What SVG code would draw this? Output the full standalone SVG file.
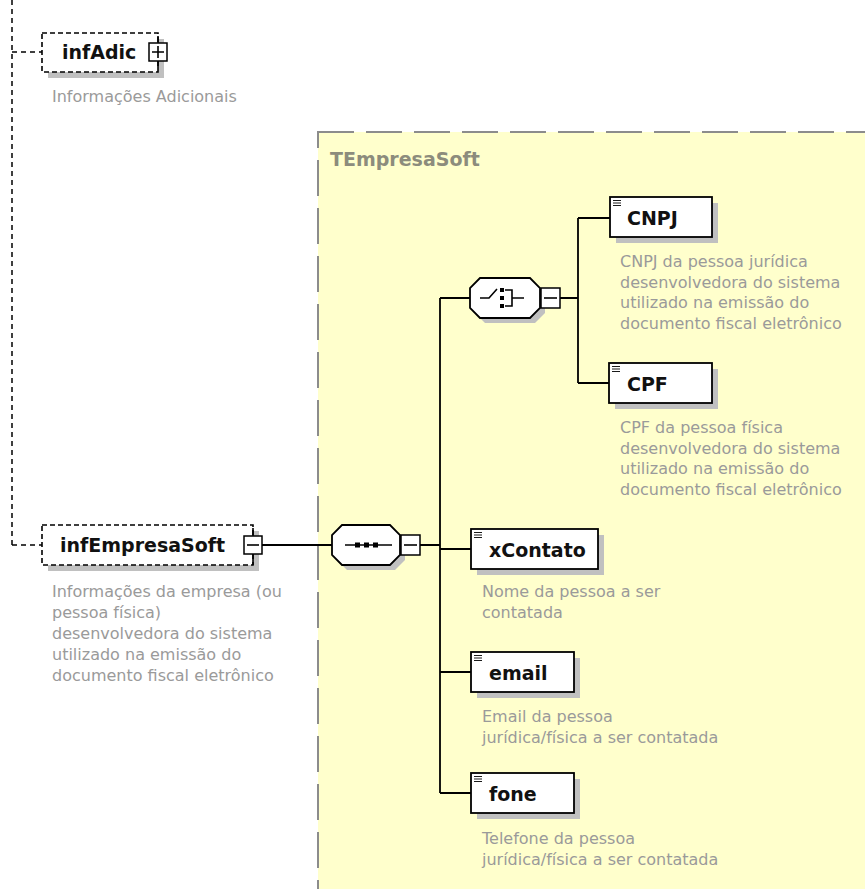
<svg xmlns="http://www.w3.org/2000/svg" width="865" height="889" viewBox="0 0 865 889">
<style>
.lbl{font-family:"DejaVu Sans",Verdana,sans-serif;font-weight:bold;font-size:19px;fill:#111}
.desc{font-family:"DejaVu Sans",Verdana,sans-serif;font-size:16px;fill:#9a9a9a}
.type{font-family:"DejaVu Sans",Verdana,sans-serif;font-weight:bold;font-size:19px;fill:#8c8c7c}
.box{fill:#fff;stroke:#000;stroke-width:1.8}
.opt{fill:#fff;stroke:#000;stroke-width:1.6;stroke-dasharray:5 3}
.shadow{fill:#c0c0c0}
.conn{stroke:#000;stroke-width:1.8;fill:none}
.dconn{stroke:#000;stroke-width:1.5;fill:none;stroke-dasharray:5 4}
.pm{fill:#fff;stroke:#000;stroke-width:1.5}
.sym{stroke:#000;stroke-width:1.6;fill:none}
.ico{stroke:#000;stroke-width:0.9;fill:none}
.dot{fill:#000}
</style>
<rect width="865" height="889" fill="#fff"/>
<g id="TEmpresaSoft">
<rect x="318" y="132" width="600" height="800" fill="#ffffcc" stroke="#8c8c8c" stroke-width="2" stroke-dasharray="36 12"/>
<text class="type" x="330" y="166">TEmpresaSoft</text>
</g>
<g id="connectors">
<path class="dconn" d="M12,0 V545 M12,52 H42 M12,545 H42"/>
<path class="conn" d="M262,545 H332 M420,545 H440 M440,298 V793 M440,298 H470 M440,549 H471 M440,672 H471 M440,793 H471 M560,298 H578 M578,218 V383 M578,218 H610 M578,383 H609"/>
</g>
<g id="infAdic">
<rect class="shadow" x="48" y="39" width="116" height="39"/>
<rect class="opt" x="42" y="33" width="116" height="39"/>
<text class="lbl" x="62" y="59">infAdic</text>
<path class="sym" d="M158,36 V69"/>
<rect class="pm" x="149" y="43" width="18" height="18"/>
<path class="sym" d="M152,52 H164 M158,46 V58"/>
<text class="desc" x="52" y="102">Informações Adicionais</text>
</g>
<g id="infEmpresaSoft">
<rect class="shadow" x="48" y="531" width="211" height="40"/>
<rect class="opt" x="42" y="525" width="211" height="40"/>
<text class="lbl" x="60" y="552">infEmpresaSoft</text>
<path class="sym" d="M253,528 V565"/>
<rect class="pm" x="244" y="536" width="18" height="18"/>
<path class="sym" d="M247,545 H259"/>
<text class="desc" x="52" y="597">Informações da empresa (ou</text>
<text class="desc" x="52" y="618">pessoa física)</text>
<text class="desc" x="52" y="639">desenvolvedora do sistema</text>
<text class="desc" x="52" y="660">utilizado na emissão do</text>
<text class="desc" x="52" y="681">documento fiscal eletrônico</text>
</g>
<g id="sequence">
<path class="shadow" d="M347,530 L395,530 L405,540 L405,560 L395,570 L347,570 L337,560 L337,540 Z"/>
<path class="box" d="M342,525 L390,525 L400,535 L400,555 L390,565 L342,565 L332,555 L332,535 Z"/>
<path class="sym" d="M345,545 H392"/>
<rect class="dot" x="355" y="542.5" width="5" height="5"/>
<rect class="dot" x="364" y="542.5" width="5" height="5"/>
<rect class="dot" x="373" y="542.5" width="5" height="5"/>
<rect class="pm" x="401" y="535" width="19" height="20"/>
<path class="sym" d="M404,545 H417"/>
</g>
<g id="choice">
<path class="shadow" d="M485,283 L535,283 L545,293 L545,313 L535,323 L485,323 L475,313 L475,293 Z"/>
<path class="box" d="M480,278 L530,278 L540,288 L540,308 L530,318 L480,318 L470,308 L470,288 Z"/>
<path class="sym" d="M480,298 H489 L497,289"/>
<rect class="dot" x="500" y="288" width="4" height="4"/>
<rect class="dot" x="500" y="296" width="4" height="4"/>
<rect class="dot" x="500" y="304" width="4" height="4"/>
<path class="sym" d="M505,290 H512 V306 H505 M512,298 H524"/>
<rect class="pm" x="541" y="288" width="19" height="20"/>
<path class="sym" d="M544,298 H557"/>
</g>
<g id="CNPJ">
<rect class="shadow" x="616" y="203" width="102" height="40"/>
<rect class="box" x="610" y="197" width="102" height="40"/>
<path class="ico" d="M613,200.5 H621 M613,203 H621 M613,205.5 H621"/>
<text class="lbl" x="627" y="225">CNPJ</text>
<text class="desc" x="620" y="267">CNPJ da pessoa jurídica</text>
<text class="desc" x="620" y="288">desenvolvedora do sistema</text>
<text class="desc" x="620" y="308">utilizado na emissão do</text>
<text class="desc" x="620" y="329">documento fiscal eletrônico</text>
</g>
<g id="CPF">
<rect class="shadow" x="615" y="369" width="103" height="40"/>
<rect class="box" x="609" y="363" width="103" height="40"/>
<path class="ico" d="M612,366.5 H620 M612,369 H620 M612,371.5 H620"/>
<text class="lbl" x="627" y="391">CPF</text>
<text class="desc" x="620" y="433">CPF da pessoa física</text>
<text class="desc" x="620" y="454">desenvolvedora do sistema</text>
<text class="desc" x="620" y="474">utilizado na emissão do</text>
<text class="desc" x="620" y="495">documento fiscal eletrônico</text>
</g>
<g id="xContato">
<rect class="shadow" x="477" y="535" width="127" height="40"/>
<rect class="box" x="471" y="529" width="127" height="40"/>
<path class="ico" d="M474,532.5 H482 M474,535 H482 M474,537.5 H482"/>
<text class="lbl" x="489" y="557">xContato</text>
<text class="desc" x="482" y="597">Nome da pessoa a ser</text>
<text class="desc" x="482" y="618">contatada</text>
</g>
<g id="email">
<rect class="shadow" x="477" y="658" width="103" height="40"/>
<rect class="box" x="471" y="652" width="103" height="40"/>
<path class="ico" d="M474,655.5 H482 M474,658 H482 M474,660.5 H482"/>
<text class="lbl" x="489" y="680">email</text>
<text class="desc" x="482" y="722">Email da pessoa</text>
<text class="desc" x="482" y="743">jurídica/física a ser contatada</text>
</g>
<g id="fone">
<rect class="shadow" x="477" y="779" width="103" height="40"/>
<rect class="box" x="471" y="773" width="103" height="40"/>
<path class="ico" d="M474,776.5 H482 M474,779 H482 M474,781.5 H482"/>
<text class="lbl" x="489" y="801">fone</text>
<text class="desc" x="482" y="844">Telefone da pessoa</text>
<text class="desc" x="482" y="865">jurídica/física a ser contatada</text>
</g>
</svg>
